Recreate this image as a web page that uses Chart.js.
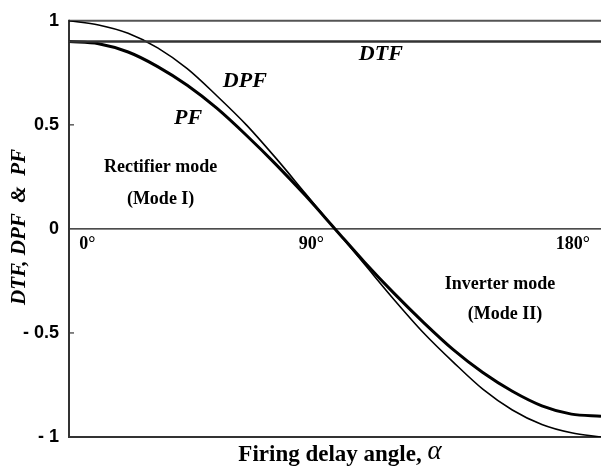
<!DOCTYPE html>
<html>
<head>
<meta charset="utf-8">
<script src="https://cdn.jsdelivr.net/npm/chart.js@4.4.1/dist/chart.umd.min.js"></script>
<style>
  html, body { margin: 0; padding: 0; background: #fff; }
</style>
</head>
<body>
<canvas id="grafico" width="601" height="475"></canvas>
<script>
/* Dados */
const angulos = [0, 10, 20, 30, 40, 50, 60, 70, 80, 90, 100, 110, 120, 130, 140, 150, 160, 170, 180];
const dpf = [1.00, 0.98, 0.94, 0.87, 0.77, 0.64, 0.50, 0.34, 0.17, 0.00, -0.17, -0.34, -0.50, -0.64, -0.77, -0.87, -0.94, -0.98, -1.00];
const pf = [0.90, 0.89, 0.85, 0.78, 0.69, 0.58, 0.45, 0.31, 0.16, 0.00, -0.16, -0.31, -0.45, -0.58, -0.69, -0.78, -0.85, -0.89, -0.90];
const dtfAngulos = [0, 180];
const dtf = [0.9, 0.9];
const yTicks = [-1, -0.5, 0, 0.5, 1];

// rótulos dentro do gráfico (texto, posição em coordenadas de dados)
const anotacoes = [
    { t: 'DTF', x: 105.5, y: 0.84, f: 'italic bold 22px "Liberation Serif"' },
    { t: 'DPF', x: 59.5, y: 0.71, f: 'italic bold 22px "Liberation Serif"' },
    { t: 'PF', x: 40.3, y: 0.53, f: 'italic bold 22px "Liberation Serif"' },
    { t: 'Rectifier mode', x: 31, y: 0.295, f: 'bold 18px "Liberation Serif"' },
    { t: '(Mode I)', x: 31, y: 0.14, f: 'bold 18px "Liberation Serif"' },
    { t: '0\u00b0', x: 6.2, y: -0.075, f: 'bold 18px "Liberation Serif"' },
    { t: '90\u00b0', x: 82, y: -0.075, f: 'bold 18px "Liberation Serif"' },
    { t: '180\u00b0', x: 170.5, y: -0.075, f: 'bold 18px "Liberation Serif"' },
    { t: 'Inverter mode', x: 145.8, y: -0.265, f: 'bold 18px "Liberation Serif"' },
    { t: '(Mode II)', x: 147.5, y: -0.41, f: 'bold 18px "Liberation Serif"' }
];

const toPts = (xs, ys) => xs.map((x, i) => ({ x: x, y: ys[i] }));

const moldura = {
    id: 'moldura',
    beforeDatasetsDraw(chart) {
        const ctx = chart.ctx;
        const a = chart.chartArea;
        const y = chart.scales.y;
        ctx.save();
        ctx.lineCap = 'butt';
        // linha em y = 1
        ctx.strokeStyle = '#555';
        ctx.lineWidth = 2;
        ctx.beginPath();
        ctx.moveTo(a.left, y.getPixelForValue(1));
        ctx.lineTo(a.right, y.getPixelForValue(1));
        ctx.stroke();
        // eixo zero
        ctx.strokeStyle = '#111';
        ctx.lineWidth = 1.3;
        ctx.beginPath();
        ctx.moveTo(a.left, y.getPixelForValue(0));
        ctx.lineTo(a.right, y.getPixelForValue(0));
        ctx.stroke();
        // base e eixo vertical
        ctx.strokeStyle = '#333';
        ctx.lineWidth = 2;
        ctx.beginPath();
        ctx.moveTo(a.left, y.getPixelForValue(1) - 1);
        ctx.lineTo(a.left, y.getPixelForValue(-1));
        ctx.lineTo(a.right, y.getPixelForValue(-1));
        ctx.stroke();
        // pequenos traços em ±0.5
        ctx.lineWidth = 1.2;
        [0.5, -0.5].forEach(v => {
            ctx.beginPath();
            ctx.moveTo(a.left, y.getPixelForValue(v));
            ctx.lineTo(a.left + 5, y.getPixelForValue(v));
            ctx.stroke();
        });
        ctx.restore();
    },
    afterDraw(chart) {
        const ctx = chart.ctx;
        const sx = chart.scales.x, sy = chart.scales.y;
        ctx.save();
        ctx.fillStyle = '#000';
        ctx.textAlign = 'center';
        ctx.textBaseline = 'middle';
        anotacoes.forEach(n => {
            ctx.font = n.f;
            ctx.fillText(n.t, sx.getPixelForValue(n.x), sy.getPixelForValue(n.y));
        });

        // título do eixo y
        ctx.save();
        ctx.translate(20, 227);
        ctx.rotate(-Math.PI / 2);
        ctx.font = 'italic bold 21px "Liberation Serif"';
        ctx.fillText('DTF, DPF  &  PF', 0, 0);
        ctx.restore();

        // título do eixo x
        const t1 = 'Firing delay angle, ';
        ctx.font = 'bold 23px "Liberation Serif"';
        const w1 = ctx.measureText(t1).width;
        ctx.font = 'italic 27px "Liberation Serif"';
        const w2 = ctx.measureText('\u03b1').width;
        const x0 = 340 - (w1 + w2) / 2;
        ctx.textAlign = 'left';
        ctx.font = 'bold 23px "Liberation Serif"';
        ctx.fillText(t1, x0, 455);
        ctx.font = 'italic 27px "Liberation Serif"';
        ctx.fillText('\u03b1', x0 + w1, 452);
        ctx.restore();
    }
};

new Chart(document.getElementById('grafico').getContext('2d'), {
    type: 'line',
    data: {
        datasets: [
            { label: 'DTF', data: toPts(dtfAngulos, dtf), borderColor: '#333', borderWidth: 2.5, pointRadius: 0, fill: false },
            { label: 'DPF', data: toPts(angulos, dpf), borderColor: '#000', borderWidth: 1.6, pointRadius: 0, fill: false, cubicInterpolationMode: 'monotone' },
            { label: 'PF', data: toPts(angulos, pf), borderColor: '#000', borderWidth: 3, pointRadius: 0, fill: false, cubicInterpolationMode: 'monotone' }
        ]
    },
    options: {
        responsive: false,
        animation: false,
        layout: { padding: { top: 16, right: 0, bottom: 38, left: 0 } },
        plugins: { legend: { display: false }, tooltip: { enabled: false } },
        scales: {
            x: {
                type: 'linear',
                min: 0,
                max: 180,
                display: false
            },
            y: {
                min: -1,
                max: 1,
                afterFit(s) { s.width = 69; },
                afterBuildTicks(s) { s.ticks = yTicks.map(v => ({ value: v })); },
                grid: { display: false, drawTicks: false },
                border: { display: false },
                ticks: {
                    padding: 10,
                    color: '#000',
                    font: { family: '"Liberation Sans", Arial', size: 18, weight: 'bold' },
                    callback: v => v < 0 ? '- ' + Math.abs(v) : String(v)
                }
            }
        }
    },
    plugins: [moldura]
});
</script>
</body>
</html>
